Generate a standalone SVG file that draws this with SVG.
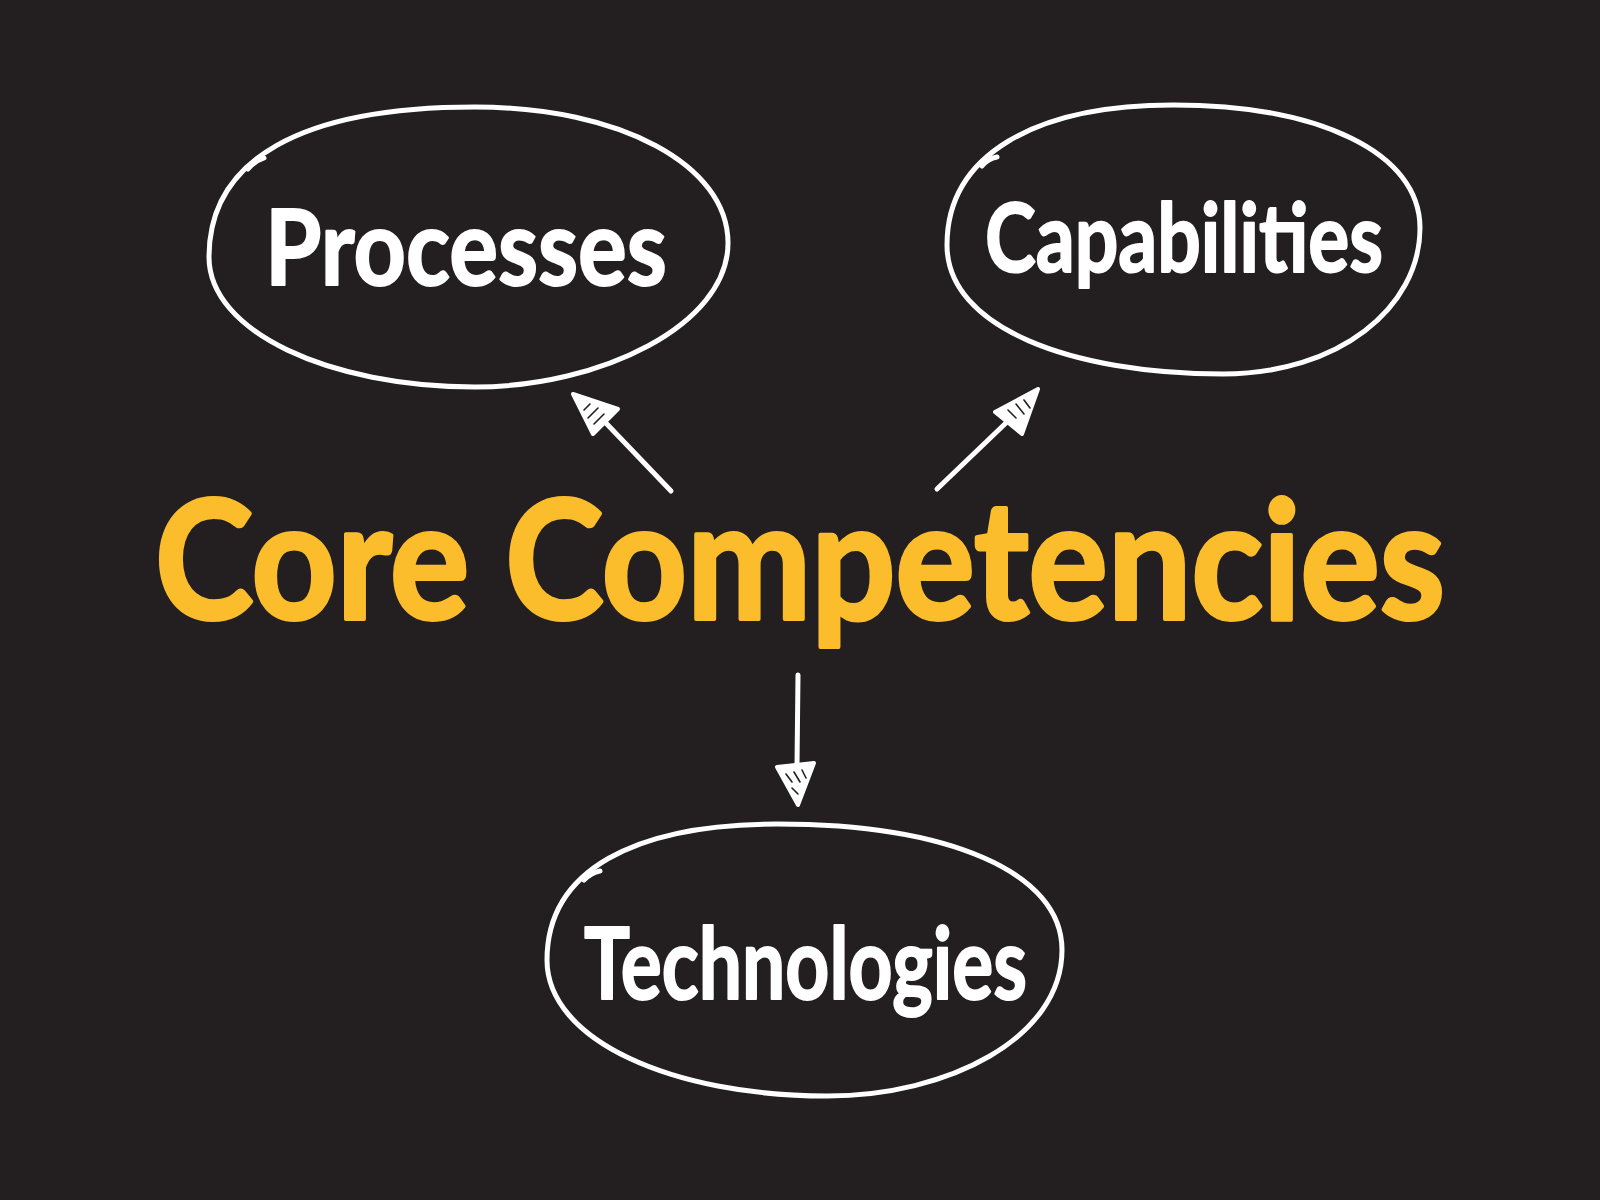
<svg xmlns="http://www.w3.org/2000/svg" width="1600" height="1200" viewBox="0 0 1600 1200">
<style>
.bubble{fill:none;stroke:#ffffff;stroke-width:5;stroke-linecap:round;stroke-linejoin:round}
.label{font-family:Lato,"Noto Sans","Liberation Sans",sans-serif;font-weight:bold;fill:#ffffff;stroke:#ffffff;stroke-width:2;stroke-linejoin:round}
.title{font-family:Lato,"Noto Sans","Liberation Sans",sans-serif;font-weight:bold;fill:#fbbd2b;stroke:#fbbd2b;stroke-width:4;stroke-linejoin:round}
.shaft{stroke:#ffffff;stroke-width:5;stroke-linecap:round;fill:none}
.head{fill:#ffffff;stroke:#ffffff;stroke-width:4;stroke-linejoin:round}
.hatch{stroke:#231f20;stroke-width:1.6;stroke-linecap:round;fill:none}
</style>
<rect width="1600" height="1200" fill="#231f20"/>

<g id="connectors">
  <g id="arrow-processes">
    <line class="shaft" x1="671" y1="491" x2="603" y2="420"/>
    <polygon class="head" points="573,394 593,434 618,409"/>
    <path class="hatch" d="M584,410 L590,404 M588,418 L598,408 M594,424 L604,414"/>
  </g>
  <g id="arrow-capabilities">
    <line class="shaft" x1="937" y1="489" x2="1008" y2="421"/>
    <polygon class="head" points="1038,389 995,412 1022,434"/>
    <path class="hatch" d="M1008,410 L1016,418 M1016,404 L1024,414 M1024,400 L1030,408"/>
  </g>
  <g id="arrow-technologies">
    <line class="shaft" x1="798" y1="675" x2="797" y2="766"/>
    <polygon class="head" points="798,805 777,767 814,763"/>
    <path class="hatch" d="M786,774 L792,782 M794,772 L800,782 M802,770 L806,778 M792,788 L798,794"/>
  </g>
</g>

<g id="node-processes">
  <path class="bubble" d="M475,107 C620,107 728,165 728,243 C728,325 600,387 475,387 C330,387 209,332 209,257 C209,160 300,107 475,107"/>
  <path class="bubble" d="M248,169 C253,163 258,160 264,158"/>
  <text class="label" x="265" y="285" font-size="106" textLength="402" lengthAdjust="spacingAndGlyphs">Processes</text>
</g>

<g id="node-capabilities">
  <path class="bubble" d="M1173,105 C1318,105 1420,152 1420,228 C1420,308 1338,374 1223,374 C1072,374 947,328 947,245 C947,155 1035,105 1173,105"/>
  <path class="bubble" d="M982,166 C986,161 991,158 997,157"/>
  <text class="label" x="985" y="272" font-size="96" textLength="398" lengthAdjust="spacingAndGlyphs">Capabilities</text>
</g>

<g id="node-technologies">
  <path class="bubble" d="M777,824 C948,824 1062,872 1062,950 C1062,1038 948,1096 827,1096 C672,1096 547,1040 547,960 C547,870 635,824 777,824"/>
  <path class="bubble" d="M584,880 C589,875 594,872 600,871"/>
  <text class="label" x="584" y="999" font-size="100" textLength="443" lengthAdjust="spacingAndGlyphs">Technologies</text>
</g>

<g id="node-core">
  <text class="title" x="155" y="619" font-size="165" textLength="1290" lengthAdjust="spacingAndGlyphs">Core Competencies</text>
</g>
</svg>
